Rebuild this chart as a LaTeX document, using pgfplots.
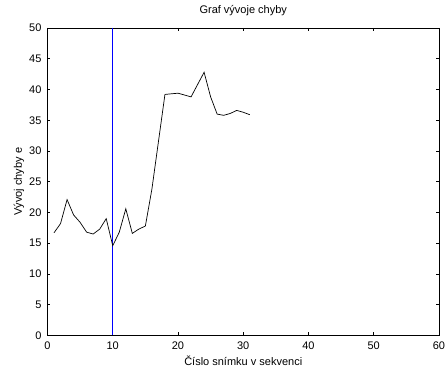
\documentclass[border=0pt]{standalone}
\usepackage{pgfplots}
\pgfplotsset{compat=1.18}
\usepackage{fontspec}
\setmainfont{Liberation Sans}

\pgfplotstableread{
n  e
1  16.7
2  18.2
3  22.1
4  19.6
5  18.4
6  16.8
7  16.5
8  17.3
9  19.0
10 14.6
11 16.8
12 20.6
13 16.6
14 17.3
15 17.8
16 23.8
17 31.5
18 39.2
19 39.3
20 39.4
21 39.1
22 38.8
23 40.8
24 42.8
25 38.8
26 36.0
27 35.8
28 36.1
29 36.6
30 36.3
31 35.9
}\chyba

\begin{document}
\begin{tikzpicture}
\path[use as bounding box] (-47.5pt,-38.5pt) rectangle (400.5pt,335.5pt);
\begin{axis}[
  at={(0pt,0pt)}, anchor=south west,
  scale only axis,
  width=391.5pt, height=307.5pt,
  xmin=0, xmax=60, ymin=0, ymax=50,
  xtick={0,10,...,60}, ytick={0,5,...,50},
  tick align=inside,
  major tick length=3pt,
  axis line style={line width=0.8pt},
  tick style={line width=0.8pt, black},
  font=\fontsize{11}{13}\selectfont,
  /pgf/number format/assume math mode=true,
  title={Graf vývoje chyby},
  title style={at={(0.5,1)}, anchor=base, yshift=8.5pt},
  xlabel={Číslo snímku v sekvenci},
  ylabel={Vývoj chyby e},
  xlabel style={at={(0.5,0)}, anchor=base, yshift=-30pt},
  ylabel style={at={(0,0.5)}, anchor=base, yshift=25.5pt},
  xticklabel style={anchor=base, yshift=-13.8pt},
  yticklabel style={xshift=-2.5pt},
]
\addplot[blue, line width=0.8pt] coordinates {(10,0) (10,50)};
\addplot[black, line width=0.7pt] table[x=n, y=e] {\chyba};
\end{axis}
\end{tikzpicture}
\end{document}
